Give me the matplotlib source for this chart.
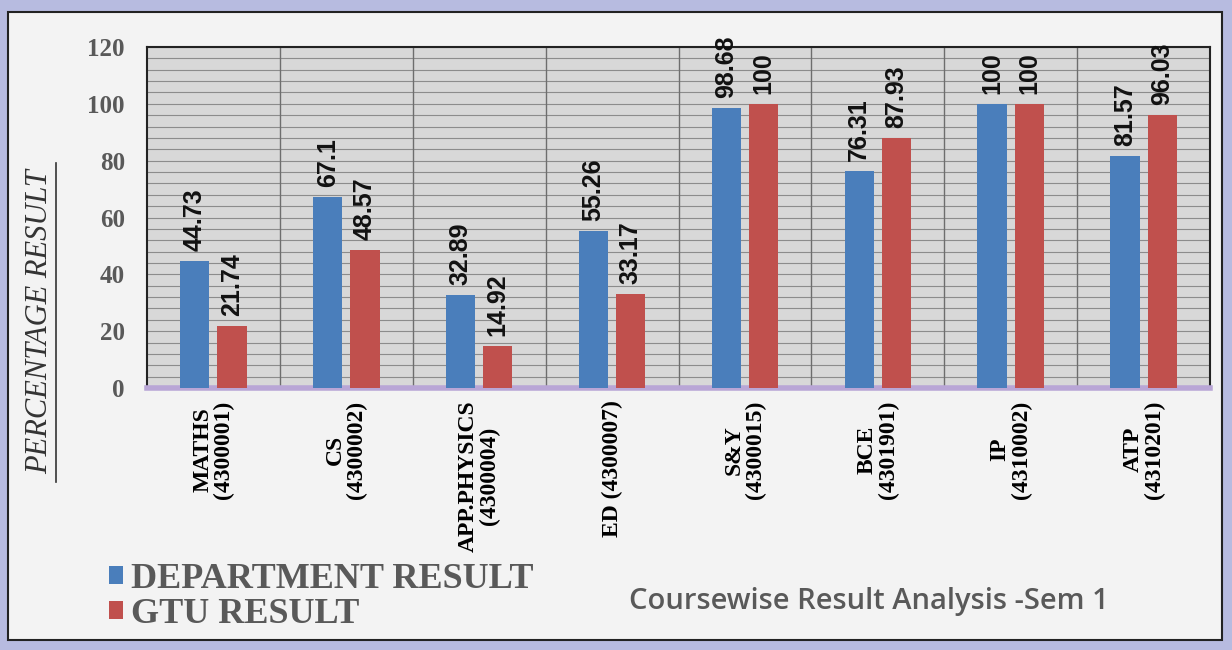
import numpy as np
import matplotlib.pyplot as plt
from matplotlib.patches import Rectangle

courses = ["MATHS\n(4300001)", "CS\n(4300002)", "APP.PHYSICS\n(4300004)", "ED (4300007)",
           "S&Y\n(4300015)", "BCE\n(4301901)", "IP\n(4310002)", "ATP\n(4310201)"]
dept_result = [44.73, 67.1, 32.89, 55.26, 98.68, 76.31, 100, 81.57]
gtu_result = [21.74, 48.57, 14.92, 33.17, 100, 87.93, 100, 96.03]
dept_labels = ["44.73", "67.1", "32.89", "55.26", "98.68", "76.31", "100", "81.57"]
gtu_labels = ["21.74", "48.57", "14.92", "33.17", "100", "87.93", "100", "96.03"]

fig = plt.figure(figsize=(12.32, 6.5), dpi=100)
fig.patch.set_facecolor("#b7bbe0")

# inner white panel with dark border
panel = Rectangle((8 / 1232, 10 / 650), 1214 / 1232, 628 / 650, transform=fig.transFigure,
                  facecolor="#f3f3f3", edgecolor="#222222", linewidth=1.5, zorder=-10)
fig.patches.append(panel)

ax = fig.add_axes([147 / 1232, 262 / 650, 1063 / 1232, 341 / 650])
ax.set_facecolor("#d8d8d8")

x = np.arange(len(courses))
w = 0.22
off = 0.14
ax.bar(x - off, dept_result, w, color="#4a7ebb", zorder=3, label="DEPARTMENT RESULT")
ax.bar(x + off, gtu_result, w, color="#c0504d", zorder=3, label="GTU RESULT")

for i in range(len(courses)):
    ax.text(x[i] - off, dept_result[i] + 3.5, dept_labels[i], rotation=90, ha="center", va="bottom",
            fontsize=18, fontweight="bold", family="Liberation Sans", color="#111111")
    ax.text(x[i] + off, gtu_result[i] + 3.5, gtu_labels[i], rotation=90, ha="center", va="bottom",
            fontsize=18, fontweight="bold", family="Liberation Sans", color="#111111")

ax.set_xlim(-0.5, len(courses) - 0.5)
ax.set_ylim(0, 120)
ax.set_yticks(np.arange(0, 121, 20))
ax.set_yticks(np.arange(0, 121, 4), minor=True)
ax.grid(axis="y", which="both", color="#8c8c8c", linewidth=0.8, zorder=1)
for b in np.arange(0.5, len(courses) - 0.5, 1):
    ax.axvline(b, color="#6e6e6e", linewidth=1, zorder=2)

ax.set_xticks(x)
ax.set_xticklabels(courses, rotation=90, family="Liberation Serif", fontweight="bold",
                   fontsize=17, linespacing=1.0, va="top")
ax.tick_params(axis="x", length=0, pad=9)
ax.tick_params(axis="y", which="both", length=0, pad=16)
for t in ax.get_yticklabels():
    t.set_family("Liberation Serif")
    t.set_fontweight("bold")
    t.set_fontsize(18)
    t.set_color("#595959")

for s in ["top", "right", "left"]:
    ax.spines[s].set_color("#222222")
    ax.spines[s].set_linewidth(1.5)
ax.spines["bottom"].set_color("#b9a6d6")
ax.spines["bottom"].set_linewidth(4)

fig.text(40 / 1232, (650 - 322) / 650, "PERCENTAGE RESULT", rotation=90, ha="center", va="center",
         family="Liberation Serif", style="italic", fontsize=22, color="#333333")
# underline of the axis label
fig.add_artist(plt.Line2D([56 / 1232, 56 / 1232], [(650 - 482) / 650, (650 - 163) / 650],
                          color="#333333", linewidth=1.2))

leg = fig.legend(loc="upper left", bbox_to_anchor=(109 / 1232, (650 - 563) / 650), frameon=False,
                 prop={"family": "Liberation Serif", "weight": "bold", "size": 26},
                 handlelength=0.4, handleheight=0.4, handletextpad=0.2, labelspacing=0.05,
                 borderaxespad=0, borderpad=0)
for t in leg.get_texts():
    t.set_color("#595959")

fig.text(869 / 1232, (650 - 601) / 650, "Coursewise Result Analysis -Sem 1", ha="center", va="center",
         family="Open Sans", fontsize=21, fontweight="semibold", color="#595959")

fig.savefig("out.png", dpi=100, facecolor=fig.get_facecolor())
